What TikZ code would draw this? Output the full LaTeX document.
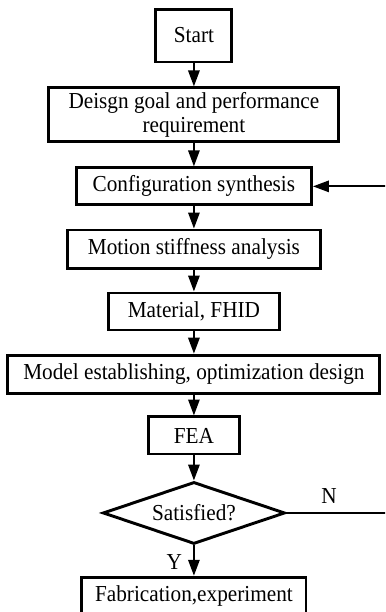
\documentclass[tikz,border=0pt]{standalone}
\usepackage{fontspec}
\setmainfont{Liberation Serif}[FakeStretch=0.93]
\usetikzlibrary{arrows.meta,shapes.geometric}

\begin{document}
\begin{tikzpicture}[font=\fontsize{17.2pt}{17.5pt}\selectfont,
  box/.style={draw,line width=2.2pt,inner sep=0pt,align=center},
  decision/.style={draw,diamond,aspect=2.94,line width=2.2pt,inner sep=0pt,minimum width=4.82cm,minimum height=1.64cm},
  flow/.style={-{Triangle[length=12pt,width=8.5pt]},line width=1.5pt}]
\useasboundingbox (0,0) rectangle (10.19,-16.19);
\clip (0,0) rectangle (10.19,-16.19);
% design steps, top to bottom
\node[box,minimum width=2.01cm,minimum height=1.40cm] (start) at (5.13,-0.94) {Start};
\node[box,minimum width=7.67cm,minimum height=1.43cm] (goal) at (5.13,-3.04) {Deisgn goal and performance\\requirement};
\node[box,minimum width=6.22cm,minimum height=0.98cm] (conf) at (5.13,-4.93) {Configuration synthesis};
\node[box,minimum width=6.69cm,minimum height=1.01cm] (motion) at (5.13,-6.59) {Motion stiffness analysis};
\node[box,minimum width=4.52cm,minimum height=0.98cm] (mat) at (5.13,-8.24) {Material, FHID};
\node[box,minimum width=9.84cm,minimum height=1.01cm] (model) at (5.13,-9.90) {Model establishing, optimization design};
\node[box,minimum width=2.41cm,minimum height=0.98cm] (fea) at (5.13,-11.52) {FEA};
\node[decision] (sat) at (5.13,-13.57) {Satisfied?};
\node[box,minimum width=5.93cm,minimum height=0.98cm] (fab) at (5.13,-15.76) {Fabrication,experiment};
\draw[flow] (start) -- (goal);
\draw[flow] (goal) -- (conf);
\draw[flow] (conf) -- (motion);
\draw[flow] (motion) -- (mat);
\draw[flow] (mat) -- (model);
\draw[flow] (model) -- (fea);
\draw[flow] (fea) -- (sat);
\draw[flow] (sat) -- node[pos=0.55,left=5pt]{Y} (fab);
% loop back when not satisfied
\coordinate (back) at (10.4,-13.57);
\draw[flow] (sat.east) -- node[pos=0.40,above=3pt]{N} (back) |- (conf.east);
\end{tikzpicture}
\end{document}
